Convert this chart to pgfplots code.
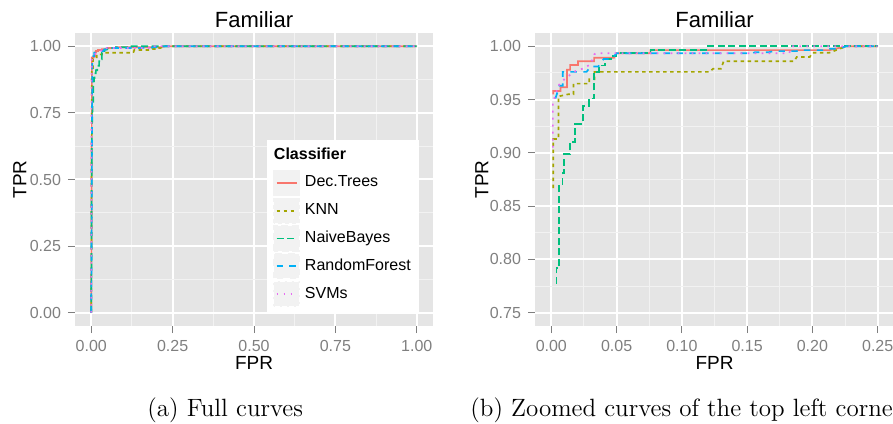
\documentclass[border=0pt]{standalone}
\usepackage{pgfplots}
\usepackage{pgfplotstable}
\pgfplotsset{compat=1.18}
\usepackage{fontspec}
\newfontfamily\helv{Liberation Sans}

\definecolor{ggbg}{HTML}{E5E5E5}
\definecolor{ggminor}{HTML}{F2F2F2}
\definecolor{ggtick}{HTML}{7F7F7F}
\definecolor{cDT}{HTML}{F8766D}
\definecolor{cKNN}{HTML}{A3A500}
\definecolor{cNB}{HTML}{00BF7D}
\definecolor{cRF}{HTML}{00B0F6}
\definecolor{cSVM}{HTML}{E76BF3}

\pgfplotstableread{
x y
0 0
0.0015 0.955
0.0015 0.958
0.0070 0.958
0.0070 0.9615
0.0120 0.9615
0.0120 0.978
0.0144 0.978
0.0144 0.9825
0.0205 0.9825
0.0205 0.986
0.0328 0.986
0.0328 0.9893
0.0480 0.9893
0.0500 0.9934
0.0759 0.9934
0.0759 0.9964
0.2130 0.9964
0.2260 1.0
0.25 1.0
1 1
}\dtDT

\pgfplotstableread{
x y
0 0
0.0015 0.867
0.0015 0.913
0.0055 0.913
0.0055 0.953
0.0130 0.955
0.0170 0.955
0.0170 0.965
0.0290 0.965
0.0290 0.969
0.0330 0.969
0.0330 0.976
0.1210 0.976
0.1240 0.979
0.1300 0.979
0.1320 0.986
0.1860 0.986
0.1880 0.990
0.1980 0.990
0.2000 0.994
0.2130 0.994
0.2260 1.0
0.25 1.0
1 1
}\dtKNN

\pgfplotstableread{
x y
0 0
0.0015 0.65
0.0039 0.777
0.0039 0.792
0.0060 0.792
0.0060 0.869
0.0085 0.869
0.0085 0.881
0.0098 0.881
0.0098 0.899
0.0142 0.899
0.0142 0.910
0.0184 0.910
0.0184 0.927
0.0241 0.927
0.0241 0.944
0.0288 0.944
0.0288 0.951
0.0326 0.951
0.0326 0.976
0.0363 0.976
0.0363 0.982
0.0409 0.982
0.0409 0.988
0.0474 0.988
0.0474 0.991
0.0500 0.991
0.0500 0.9934
0.0759 0.9934
0.0759 0.9966
0.1200 0.9966
0.1200 1.0
0.25 1.0
1 1
}\dtNB

\pgfplotstableread{
x y
0 0
0.0031 0.951
0.0050 0.958
0.0061 0.963
0.0087 0.963
0.0087 0.976
0.0270 0.976
0.0300 0.981
0.0360 0.981
0.0400 0.988
0.0460 0.988
0.0500 0.9934
0.1540 0.9934
0.1560 0.9945
0.1670 0.9945
0.1700 0.9955
0.1880 0.9955
0.1900 0.9964
0.2100 0.9964
0.2130 0.9977
0.2200 0.9977
0.2260 1.0
0.25 1.0
1 1
}\dtRF

\pgfplotstableread{
x y
0 0
0.0012 0.905
0.0012 0.947
0.0035 0.956
0.0060 0.964
0.0099 0.969
0.0130 0.972
0.0189 0.977
0.0240 0.979
0.0300 0.983
0.0330 0.9925
0.0340 0.9934
0.1820 0.9934
0.1850 1.0
0.25 1.0
1 1
}\dtSVM

\pgfplotsset{
  ggstyle/.style={
    scale only axis,
    anchor=south west,
    axis background/.style={fill=ggbg},
    axis line style={draw=none},
    grid=both,
    major grid style={white, line width=1pt},
    minor grid style={ggminor, line width=0.5pt},
    minor tick num=1,
    tick align=outside,
    tick pos=left,
    major tick length=3.5pt,
    minor tick length=0pt,
    tick style={ggtick, line width=0.5pt},
    tick label style={font=\helv\fontsize{8}{9.6}\selectfont, text=ggtick},
    /pgf/number format/.cd, assume math mode=true, fixed, fixed zerofill, precision=2,
    /pgfplots/.cd,
    every axis title shift=0pt,
    title style={font=\helv\fontsize{11}{13}\selectfont, anchor=center},
    xlabel style={font=\helv\fontsize{9.5}{11}\selectfont, anchor=center},
    ylabel style={font=\helv\fontsize{9.5}{11}\selectfont, anchor=center},
  },
  sDT/.style={color=cDT, line width=0.85pt, solid},
  sKNN/.style={color=cKNN, line width=0.85pt, dash pattern=on 1.75pt off 1.75pt},
  sNB/.style={color=cNB, line width=0.85pt, dash pattern=on 3.5pt off 1.75pt},
  sRF/.style={color=cRF, line width=0.85pt, dash pattern=on 3.2pt off 3.2pt},
  sSVM/.style={color=cSVM, line width=0.85pt, dash pattern=on 0.9pt off 2.6pt},
}

\begin{document}
\begin{tikzpicture}
\begin{axis}[ggstyle,
  at={(37.5pt,48.5pt)},
  width=179pt, height=146.5pt,
  xmin=-0.05, xmax=1.05, ymin=-0.05, ymax=1.05,
  xtick={0,0.25,0.5,0.75,1}, ytick={0,0.25,0.5,0.75,1},
  title={Familiar}, title style={at={(axis description cs:0.5,1.0444)}},
  xlabel={FPR}, xlabel style={at={(axis description cs:0.5,-0.126)}},
  ylabel={TPR}, ylabel style={at={(axis description cs:-0.154,0.5)}},
  legend style={at={(0.536,0.635)}, anchor=north west, draw=none, fill=white,
    font=\helv\fontsize{8}{9.6}\selectfont, inner xsep=3pt, inner ysep=2.6pt,
    row sep=0.85pt, nodes={inner sep=1pt},
    /tikz/every odd column/.append style={column sep=1.5pt}},
  legend cell align=left,
  legend image code/.code={
    \fill[ggminor] (0pt,-6.1pt) rectangle (12.5pt,6.1pt);
    \draw[#1] (1.2pt,0pt) -- (11.3pt,0pt);
  },
]
\addlegendimage{empty legend}
\addlegendentry{\hspace*{-15.5pt}\raisebox{2pt}{\textbf{Classifier}}}
\addplot[sDT] table {\dtDT};
\addlegendentry{Dec.Trees}
\addplot[sKNN] table {\dtKNN};
\addlegendentry{KNN}
\addplot[sNB] table {\dtNB};
\addlegendentry{NaiveBayes}
\addplot[sRF] table {\dtRF};
\addlegendentry{RandomForest}
\addplot[sSVM] table {\dtSVM};
\addlegendentry{SVMs}
\end{axis}

\begin{axis}[ggstyle,
  at={(267.5pt,48.5pt)},
  width=179.5pt, height=146.5pt,
  xmin=-0.0125, xmax=0.2625, ymin=0.7375, ymax=1.0125,
  xtick={0,0.05,0.1,0.15,0.2,0.25}, ytick={0.75,0.8,0.85,0.9,0.95,1},
  title={Familiar}, title style={at={(axis description cs:0.5,1.0444)}},
  xlabel={FPR}, xlabel style={at={(axis description cs:0.5,-0.126)}},
  ylabel={TPR}, ylabel style={at={(axis description cs:-0.148,0.5)}},
  restrict x to domain=-0.01:0.26, restrict y to domain=0.74:1.02,
]
\addplot[sDT] table {\dtDT};
\addplot[sKNN] table {\dtKNN};
\addplot[sNB] table {\dtNB};
\addplot[sRF] table {\dtRF};
\addplot[sSVM] table {\dtSVM};
\end{axis}

\node[anchor=base west, font=\fontsize{12.5}{15}\selectfont, inner sep=0pt] at (73.5pt,3.5pt) {(a) Full curves};
\node[anchor=base west, font=\fontsize{12.5}{15}\selectfont, inner sep=0pt] at (235pt,3.5pt) {(b) Zoomed curves of the top left corner};

\pgfresetboundingbox
\useasboundingbox (0pt,0pt) rectangle (446.5pt,211.5pt);
\end{tikzpicture}
\end{document}
